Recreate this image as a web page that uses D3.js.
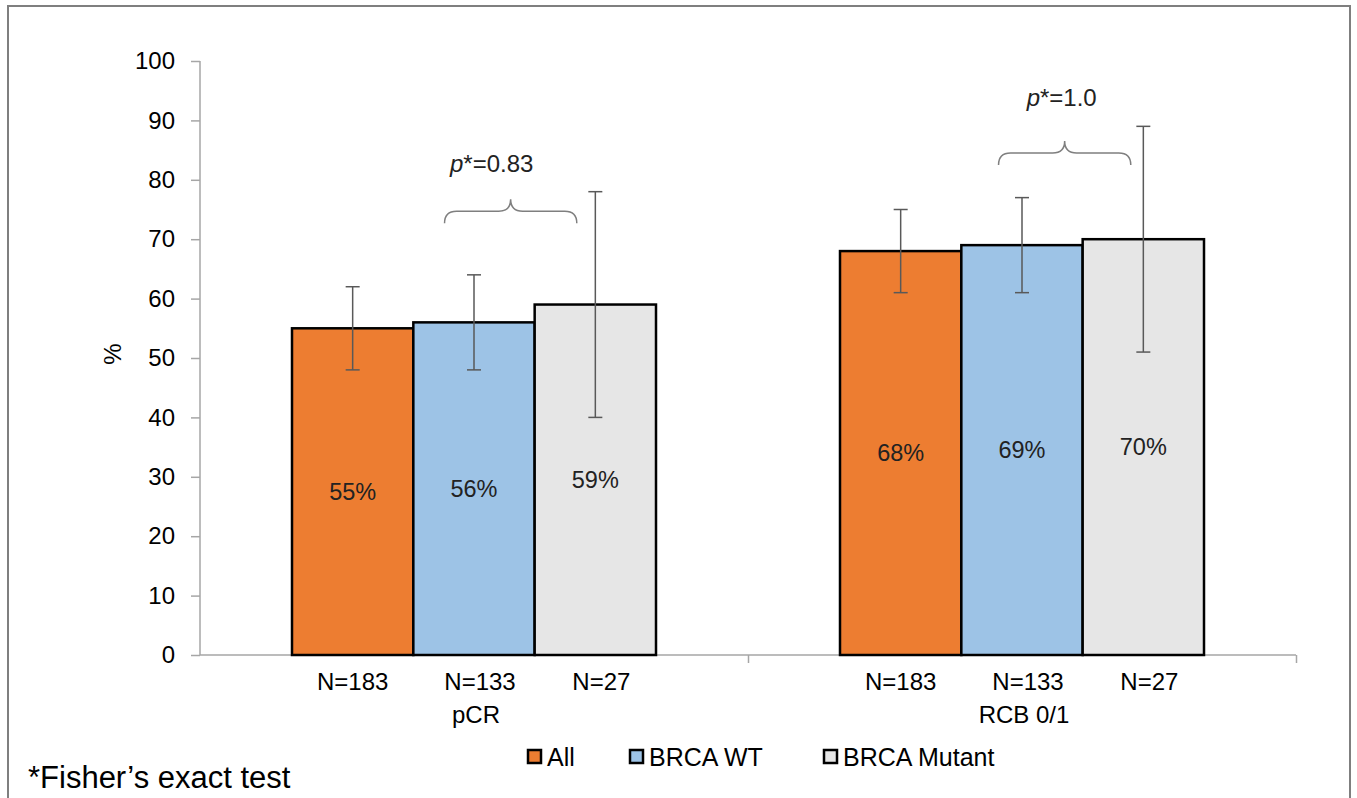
<!DOCTYPE html>
<html>
<head>
<meta charset="utf-8">
<script src="https://d3js.org/d3.v7.min.js"></script>
<style>
  body { margin: 0; background: #fff; }
  svg { display: block; font-family: "Liberation Sans", Arial, sans-serif; }
  .axis path, .axis line { stroke: #a6a6a6; stroke-width: 1.5; }
  .axis text { fill: #000; font-size: 24px; }
</style>
</head>
<body>
<svg width="1357" height="798"></svg>
<script>
// chart values
var groups = ["pCR", "RCB 0/1"];
var series = ["All", "BRCA WT", "BRCA Mutant"];
var nLabels = ["N=183", "N=133", "N=27"];
var pctPCR = [55, 56, 59];
var pctRCB = [68, 69, 70];
var lowPCR = [48, 48, 40];
var highPCR = [62, 64, 78];
var lowRCB = [61, 61, 51];
var highRCB = [75, 77, 89];
var pValues = ["0.83", "1.0"];
var braceLevel = [74.7, 84.5];   // in % units
var yTicks = [0, 10, 20, 30, 40, 50, 60, 70, 80, 90, 100];
var colors = ["#ed7d31", "#9dc3e6", "#e6e6e6"];

var values = [pctPCR, pctRCB], lows = [lowPCR, lowRCB], highs = [highPCR, highRCB];

var rows = [];
groups.forEach(function (g, gi) {
  series.forEach(function (s, si) {
    rows.push({ group: g, series: s, n: nLabels[si], value: values[gi][si], lo: lows[gi][si], hi: highs[gi][si], color: colors[si] });
  });
});

var svg = d3.select("svg");

// outer frame
svg.append("rect").attr("x", 8).attr("y", 6).attr("width", 1342).attr("height", 820)
  .attr("fill", "none").attr("stroke", "#7f7f7f").attr("stroke-width", 2);

var y = d3.scaleLinear([0, 100], [655, 61]);
var x0 = d3.scaleBand(groups, [200, 1296]);
var x1 = d3.scaleBand(series, [92, 456]);

// y axis
svg.append("g").attr("class", "axis").attr("transform", "translate(200,0)")
  .call(d3.axisLeft(y).tickValues(yTicks).tickSize(9).tickPadding(16))
  .call(function (g) { g.select(".domain").attr("d", "M0," + y(100) + "V" + y(0)); });

// x axis (ticks only at group boundaries)
svg.append("g").attr("class", "axis").attr("transform", "translate(0," + y(0) + ")")
  .call(d3.axisBottom(d3.scaleLinear([0, 2], [200, 1296])).tickValues([0, 1, 2]).tickSize(8).tickFormat(""))
  .call(function (g) { g.select(".domain").attr("d", "M200,0H1296"); g.selectAll(".tick").filter(function (d) { return d === 0; }).remove(); });

// bars
svg.append("g").selectAll("rect").data(rows).join("rect")
  .attr("x", function (d) { return x0(d.group) + x1(d.series); })
  .attr("y", function (d) { return y(d.value); })
  .attr("width", x1.bandwidth())
  .attr("height", function (d) { return y(0) - y(d.value); })
  .attr("fill", function (d) { return d.color; })
  .attr("stroke", "#000").attr("stroke-width", 2.5);

// error bars
var eb = svg.append("g").attr("stroke", "#595959").attr("stroke-width", 1.5);
rows.forEach(function (d) {
  var cx = x0(d.group) + x1(d.series) + x1.bandwidth() / 2;
  eb.append("line").attr("x1", cx).attr("x2", cx).attr("y1", y(d.lo)).attr("y2", y(d.hi));
  eb.append("line").attr("x1", cx - 7).attr("x2", cx + 7).attr("y1", y(d.lo)).attr("y2", y(d.lo));
  eb.append("line").attr("x1", cx - 7).attr("x2", cx + 7).attr("y1", y(d.hi)).attr("y2", y(d.hi));
});

// value labels in the middle of each bar
svg.append("g").selectAll("text").data(rows).join("text")
  .attr("x", function (d) { return x0(d.group) + x1(d.series) + x1.bandwidth() / 2; })
  .attr("y", function (d) { return y(d.value / 2); })
  .attr("dy", "0.35em").attr("text-anchor", "middle").attr("font-size", 23.5).attr("fill", "#222")
  .text(function (d) { return d.value + "%"; });

// N labels and group labels
svg.append("g").selectAll("text").data(rows).join("text")
  .attr("x", function (d) { return x0(d.group) + x1(d.series) + x1.bandwidth() / 2 + (d.series === "All" ? 0 : 6); })
  .attr("y", 682).attr("dy", "0.35em").attr("text-anchor", "middle").attr("font-size", 24)
  .text(function (d) { return d.n; });
svg.append("g").selectAll("text").data(groups).join("text")
  .attr("x", function (g) { return x0(g) + x1("BRCA WT") + x1.bandwidth() / 2 + 2; })
  .attr("y", 715).attr("dy", "0.35em").attr("text-anchor", "middle").attr("font-size", 24)
  .text(function (g) { return g; });

// braces with p-values
groups.forEach(function (g, gi) {
  var cx = x0(g) + x1("BRCA Mutant") - (gi === 0 ? 24 : 18);
  var hw = x1.bandwidth() * 0.545;
  var yh = y(braceLevel[gi]), ye = yh + 12, yp = yh - 12, r = 12;
  var p = d3.path();
  p.moveTo(cx - hw, ye);
  p.quadraticCurveTo(cx - hw, yh, cx - hw + r, yh);
  p.lineTo(cx - r, yh);
  p.quadraticCurveTo(cx, yh, cx, yp);
  p.quadraticCurveTo(cx, yh, cx + r, yh);
  p.lineTo(cx + hw - r, yh);
  p.quadraticCurveTo(cx + hw, yh, cx + hw, ye);
  svg.append("path").attr("d", p.toString()).attr("fill", "none")
    .attr("stroke", "#7f7f7f").attr("stroke-width", 1.5);
  var t = svg.append("text").attr("x", cx - (gi === 0 ? 19 : 3)).attr("y", y(braceLevel[gi] + (gi === 0 ? 8.1 : 9.4)))
    .attr("dy", "0.35em").attr("text-anchor", "middle").attr("font-size", 24).attr("fill", "#222");
  t.append("tspan").attr("font-style", "italic").text("p");
  t.append("tspan").text("*=" + pValues[gi]);
});

// y axis title
svg.append("text").attr("transform", "translate(113,354) rotate(-90)")
  .attr("text-anchor", "middle").attr("dy", "0.35em").attr("font-size", 24).text("%");

// legend
var legX = [527, 629, 823];
var leg = svg.append("g").selectAll("g").data(series).join("g")
  .attr("transform", function (d, i) { return "translate(" + legX[i] + ",757)"; });
leg.append("rect").attr("x", 1).attr("y", -7).attr("width", 13).attr("height", 13)
  .attr("fill", function (d, i) { return colors[i]; }).attr("stroke", "#000").attr("stroke-width", 2.5);
leg.append("text").attr("x", 20).attr("dy", "0.35em").attr("font-size", 25).text(function (d) { return d; });

// footnote
svg.append("text").attr("x", 28).attr("y", 777).attr("dy", "0.35em").attr("font-size", 31)
  .text("*Fisher\u2019s exact test");
</script>
</body>
</html>
